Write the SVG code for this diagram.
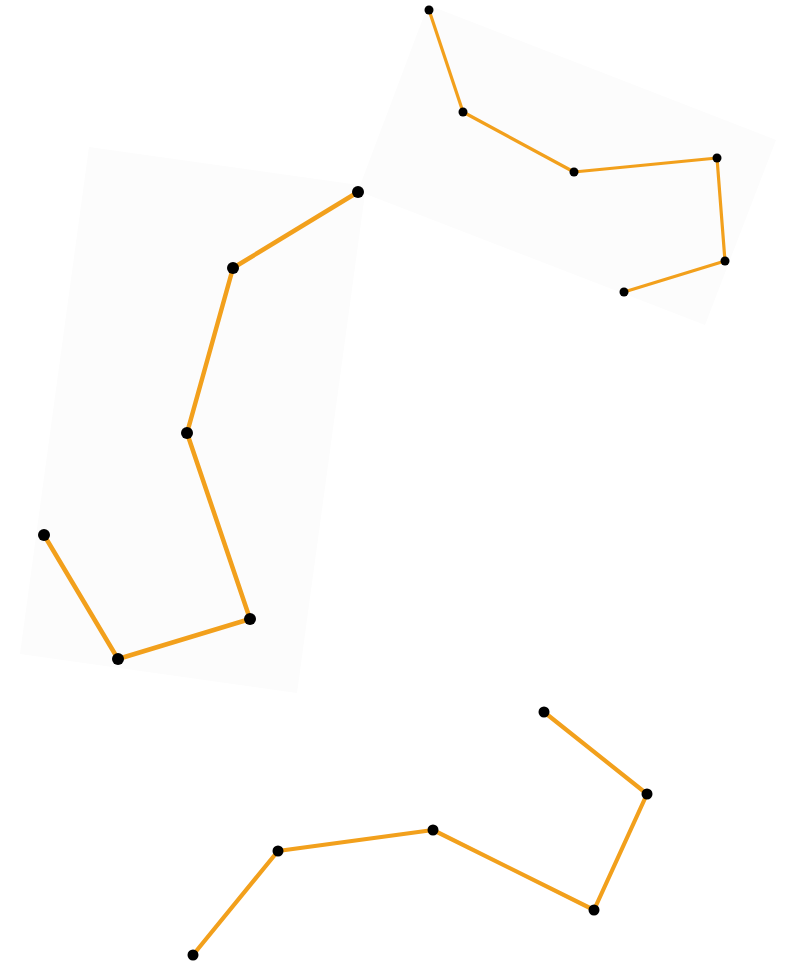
<svg xmlns="http://www.w3.org/2000/svg" width="791" height="965" viewBox="0 0 791 965">
<style>
.panel{fill:#fcfcfc;stroke:none}
.edge{fill:none;stroke:#f2a01c;stroke-linejoin:round;stroke-linecap:round}
.dot{fill:#000}
</style>
<rect width="791" height="965" fill="#fff"/>
<g id="panels">
<polygon class="panel" points="89,147 366,186 297,693 20,654"/>
<polygon class="panel" points="428,5 776,140 705,325 358,191"/>
</g>
<g id="connectors">
<polyline class="edge" stroke-width="3.2" points="429,10 463,112 574,172 717,158 725,261 624,292"/>
<polyline class="edge" stroke-width="4.5" points="358,192 233,268 187,433 250,619 118,659 44,535"/>
<polyline class="edge" stroke-width="4.2" points="544,712 647,794 594,910 433,830 278,851 193,955"/>
</g>
<g id="chain-top">
<circle class="dot" cx="429" cy="10" r="4.5"/>
<circle class="dot" cx="463" cy="112" r="4.5"/>
<circle class="dot" cx="574" cy="172" r="4.5"/>
<circle class="dot" cx="717" cy="158" r="4.5"/>
<circle class="dot" cx="725" cy="261" r="4.5"/>
<circle class="dot" cx="624" cy="292" r="4.5"/>
</g>
<g id="chain-left">
<circle class="dot" cx="358" cy="192" r="6"/>
<circle class="dot" cx="233" cy="268" r="6"/>
<circle class="dot" cx="187" cy="433" r="6"/>
<circle class="dot" cx="250" cy="619" r="6"/>
<circle class="dot" cx="118" cy="659" r="6"/>
<circle class="dot" cx="44" cy="535" r="6"/>
</g>
<g id="chain-bottom">
<circle class="dot" cx="544" cy="712" r="5.5"/>
<circle class="dot" cx="647" cy="794" r="5.5"/>
<circle class="dot" cx="594" cy="910" r="5.5"/>
<circle class="dot" cx="433" cy="830" r="5.5"/>
<circle class="dot" cx="278" cy="851" r="5.5"/>
<circle class="dot" cx="193" cy="955" r="5.5"/>
</g>
</svg>
